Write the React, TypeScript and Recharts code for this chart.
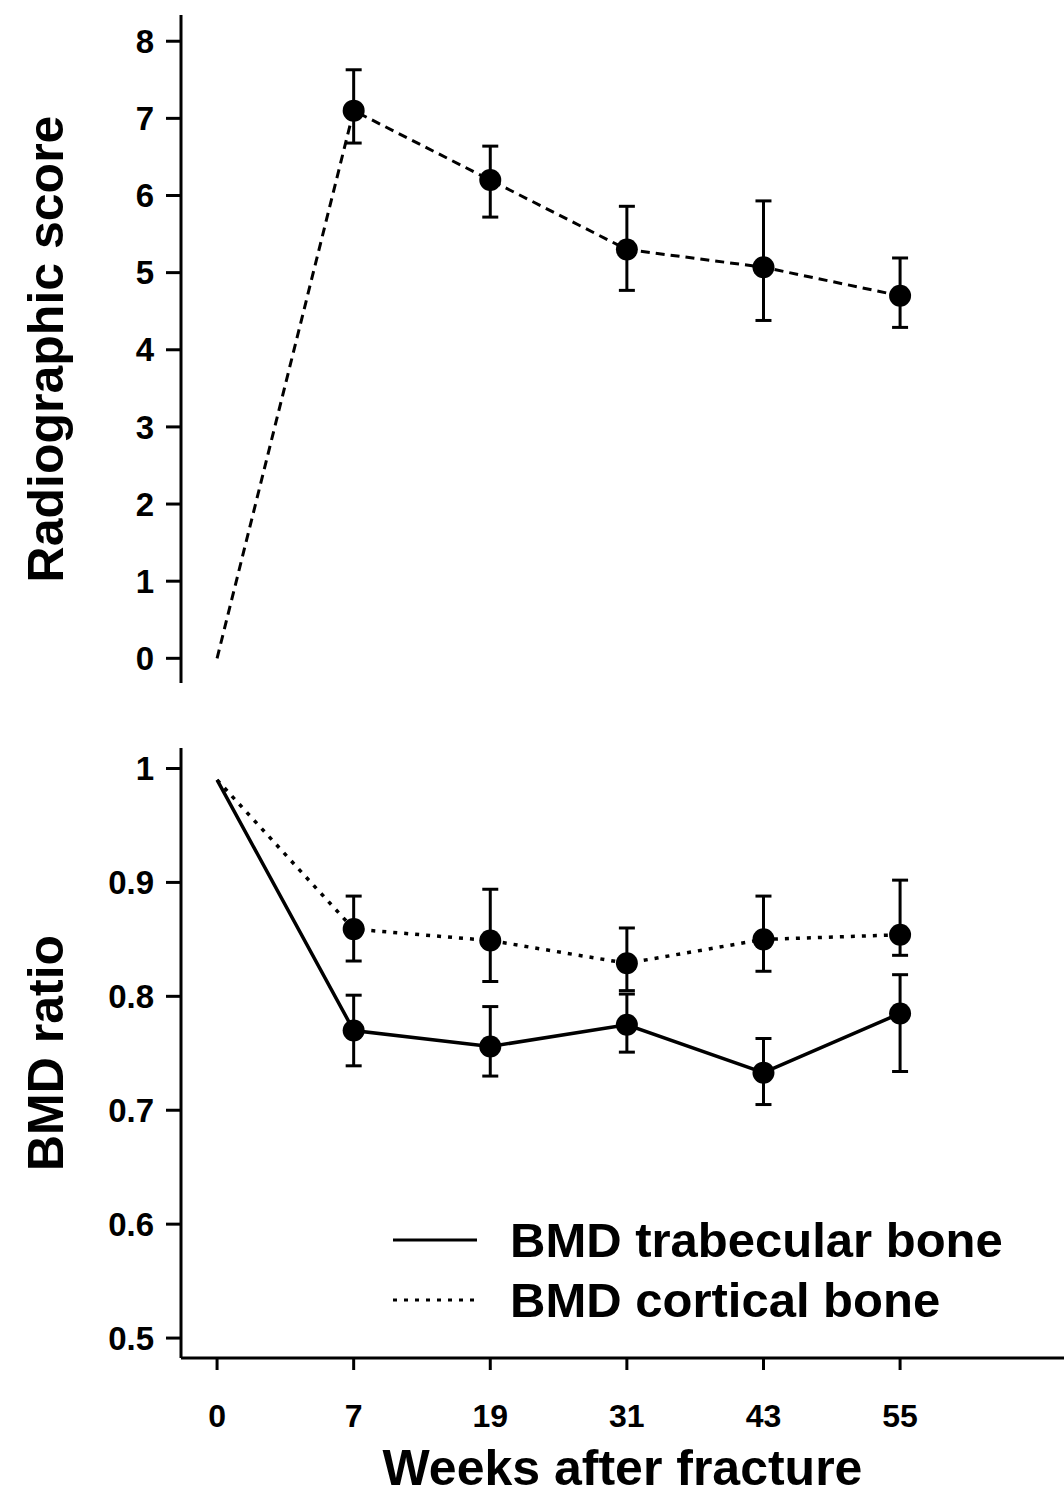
import { LineChart, Line, XAxis, YAxis, ErrorBar } from "recharts";

const weeks = ["0", "7", "19", "31", "43", "55"];

const score = [0, 7.1, 6.2, 5.3, 5.07, 4.7];
const scoreLow = [null, 6.68, 5.72, 4.77, 4.38, 4.29];
const scoreHigh = [null, 7.63, 6.64, 5.86, 5.93, 5.19];

const trabecular = [0.99, 0.77, 0.756, 0.775, 0.733, 0.785];
const trabLow = [null, 0.739, 0.73, 0.751, 0.705, 0.734];
const trabHigh = [null, 0.801, 0.791, 0.802, 0.763, 0.819];

const cortical = [0.99, 0.859, 0.849, 0.829, 0.85, 0.854];
const cortLow = [null, 0.831, 0.813, 0.805, 0.822, 0.836];
const cortHigh = [null, 0.888, 0.894, 0.86, 0.888, 0.902];

const legendItems = [
  { label: "BMD trabecular bone", dash: undefined },
  { label: "BMD cortical bone", dash: "4 7" },
];

const err = (v: number, lo: number | null, hi: number | null) =>
  lo == null || hi == null ? null : [v - lo, hi - v];

const scoreData = weeks.map((w, i) => ({
  i,
  week: w,
  score: score[i],
  scoreErr: err(score[i], scoreLow[i], scoreHigh[i]),
}));

const bmdData = weeks.map((w, i) => ({
  i,
  week: w,
  trabecular: trabecular[i],
  trabErr: err(trabecular[i], trabLow[i], trabHigh[i]),
  cortical: cortical[i],
  cortErr: err(cortical[i], cortLow[i], cortHigh[i]),
}));

const FONT = "'Liberation Sans', Arial, Helvetica, sans-serif";
const xDomain = [-0.264, 6.2];
const xTicks = [0, 1, 2, 3, 4, 5];

const dot = (props: any) => {
  const { cx, cy, index } = props;
  if (index === 0 || cx == null || cy == null) return <g key={`d-${index}`} />;
  return <circle key={`d-${index}`} cx={cx} cy={cy} r={11} fill="#000" />;
};

const axisLine = { stroke: "#000", strokeWidth: 3 };
const tickStyle = { fontSize: 33, fontWeight: 700, fill: "#000", fontFamily: FONT };
const titleStyle = { textAnchor: "middle", fontSize: 50, fontWeight: 700, fill: "#000", fontFamily: FONT };

function LegendBox() {
  return (
    <div style={{ position: "absolute", left: 393, top: 1210, fontFamily: FONT }}>
      {legendItems.map((r) => (
        <div key={r.label} style={{ display: "flex", alignItems: "center", height: 60 }}>
          <svg width={90} height={20} style={{ marginRight: 27 }}>
            <line x1={0} y1={10} x2={84} y2={10} stroke="#000" strokeWidth={3} strokeDasharray={r.dash} />
          </svg>
          <span style={{ fontSize: 49, fontWeight: 700, color: "#000", lineHeight: "60px" }}>{r.label}</span>
        </div>
      ))}
    </div>
  );
}

export default function App() {
  return (
    <div style={{ position: "absolute", left: 0, top: 0, width: 1064, height: 1499, background: "#fff" }}>
      <div style={{ position: "absolute", left: 0, top: 0 }}>
        <LineChart width={1064} height={700} data={scoreData} margin={{ top: 15, right: 0, bottom: 17, left: 0 }}>
          <XAxis dataKey="i" type="number" domain={xDomain} ticks={xTicks} hide />
          <YAxis
            width={181}
            domain={[-0.32, 8.34]}
            ticks={[0, 1, 2, 3, 4, 5, 6, 7, 8]}
            axisLine={axisLine}
            tickLine={axisLine}
            tickSize={15}
            tickMargin={12}
            tick={tickStyle}
            label={{
              value: "Radiographic score",
              angle: -90,
              position: "insideLeft",
              offset: 45,
              style: titleStyle,
            }}
          />
          <Line
            dataKey="score"
            stroke="#000"
            strokeWidth={3}
            strokeDasharray="9 6"
            dot={dot}
            activeDot={false}
            isAnimationActive={false}
          >
            <ErrorBar dataKey="scoreErr" direction="y" width={8} stroke="#000" strokeWidth={3} />
          </Line>
        </LineChart>
      </div>
      <div style={{ position: "absolute", left: 0, top: 700 }}>
        <LineChart width={1064} height={799} data={bmdData} margin={{ top: 48, right: 0, bottom: 0, left: 0 }}>
          <XAxis
            dataKey="i"
            type="number"
            domain={xDomain}
            ticks={xTicks}
            tickFormatter={(v: number) => weeks[v]}
            axisLine={axisLine}
            tickLine={axisLine}
            tickSize={12}
            tickMargin={34}
            tick={{ ...tickStyle, fontSize: 32 }}
            height={141}
            label={{
              value: "Weeks after fracture",
              position: "insideBottom",
              offset: 14,
              style: titleStyle,
            }}
          />
          <YAxis
            width={181}
            domain={[0.4825, 1.018]}
            ticks={[0.5, 0.6, 0.7, 0.8, 0.9, 1]}
            axisLine={axisLine}
            tickLine={axisLine}
            tickSize={15}
            tickMargin={12}
            tick={tickStyle}
            label={{
              value: "BMD ratio",
              angle: -90,
              position: "insideLeft",
              offset: 45,
              style: titleStyle,
            }}
          />
          <Line
            dataKey="cortical"
            stroke="#000"
            strokeWidth={3.5}
            strokeDasharray="4 7"
            dot={dot}
            activeDot={false}
            isAnimationActive={false}
          >
            <ErrorBar dataKey="cortErr" direction="y" width={8} stroke="#000" strokeWidth={3} />
          </Line>
          <Line
            dataKey="trabecular"
            stroke="#000"
            strokeWidth={3.5}
            dot={dot}
            activeDot={false}
            isAnimationActive={false}
          >
            <ErrorBar dataKey="trabErr" direction="y" width={8} stroke="#000" strokeWidth={3} />
          </Line>
        </LineChart>
      </div>
      <LegendBox />
    </div>
  );
}
